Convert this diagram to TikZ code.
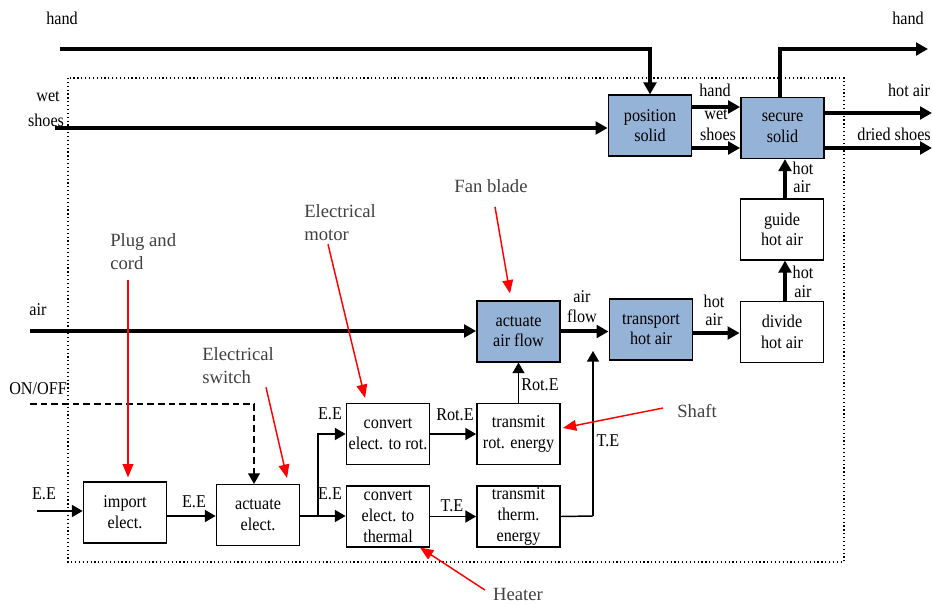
\documentclass[tikz,border=0pt]{standalone}
\usepackage{fontspec}
\setmainfont{Liberation Serif}
\newfontfamily\narrowfont[FakeStretch=0.9]{Liberation Serif}
\usetikzlibrary{arrows.meta,calc}
\definecolor{boxblue}{HTML}{95B3D7}
\definecolor{annot}{HTML}{404040}
\begin{document}
\begin{tikzpicture}[x=0.75pt,y=-0.75pt,
 box/.style={draw,line width=1.1pt,minimum width=62.5pt,minimum height=45.5pt,align=center,inner sep=0pt,font=\narrowfont\fontsize{13.5}{15.5}\selectfont},
 bluebox/.style={box,fill=boxblue},
 lbl/.style={font=\narrowfont\fontsize{13.5}{14}\selectfont,inner sep=0pt,align=center},
 note/.style={font=\fontsize{14}{17.25}\selectfont,text=annot,inner sep=0pt,align=left},
 thk/.style={line width=3pt,-{Triangle[length=9pt,width=9.5pt]}},
 thkline/.style={line width=3pt},
 thn/.style={line width=1.1pt,-{Triangle[length=8pt,width=9pt]}},
 thnline/.style={line width=1.1pt},
 redarr/.style={draw=red,line width=1.1pt,-{Triangle[length=10pt,width=8pt]}}]
\useasboundingbox (0,0) rectangle (932,605);
% system boundary
\draw[dotted,line width=0.9pt] (68,78) rectangle (844,562);

% boxes
\node[bluebox] (pos) at (650,125.5) {position\\solid};
\node[bluebox] (sec) at (782.5,128) {secure\\solid};
\node[box] (guide) at (782,229.5) {guide\\hot air};
\node[box] (divide) at (782,332) {divide\\hot air};
\node[bluebox] (trans) at (651,329.5) {transport\\hot air};
\node[bluebox] (actair) at (518.5,331.5) {actuate\\air flow};
\node[box] (trot) at (518.5,434) {transmit\\rot. energy};
\node[box] (crot) at (388,434) {convert\\elect. to rot.};
\node[box] (cth) at (388,516.5) {convert\\elect. to\\thermal};
\node[box] (tth) at (518.5,516.5) {transmit\\therm.\\energy};
\node[box] (actel) at (258,515) {actuate\\elect.};
\node[box] (imp) at (125,512.5) {import\\elect.};

% free ends
\coordinate (handin) at (60,49);
\coordinate (shoesin) at (55,128);
\coordinate (handout) at (928,49);
\coordinate (hotairout) at (932,113);
\coordinate (driedout) at (932,148);
\coordinate (airin) at (30,331);
\coordinate (eein) at (37,511);
\coordinate (onoff) at (30,404);
\coordinate (tecorner) at (593,516);
\coordinate (tetip) at (593,351);
\coordinate (split) at (318,516);

% thick flows
\draw[thk] (handin) -| (pos.north);
\draw[thk] (shoesin) -- (shoesin -| pos.west);
\draw[thk] (pos.east |- 0,107) -- (sec.west |- 0,107);
\draw[thk] (pos.east |- 0,148) -- (sec.west |- 0,148);
\draw[thk] (sec.north -| 780,0) |- (handout);
\draw[thk] (sec.east |- hotairout) -- (hotairout);
\draw[thk] (sec.east |- driedout) -- (driedout);
\draw[thk] (guide.north -| 785,0) -- (sec.south -| 785,0);
\draw[thk] (divide.north -| 785,0) -- (guide.south -| 785,0);
\draw[thk] (trans.east |- 0,333) -- (divide.west |- 0,333);
\draw[thk] (actair.east) -- (trans.west |- actair.east);
\draw[thk] (airin) -- (airin -| actair.west);

% thin flows
\draw[thn] (eein) -- (eein -| imp.west);
\draw[thn] (imp.east |- 0,516) -- (actel.west |- 0,516);
\draw[thnline] (actel.east |- split) -- (split);
\draw[thn] (split) |- (crot.west);
\draw[thn] (split) -- (split -| cth.west);
\draw[thn] (crot.east) -- (trot.west);
\draw[thn] (cth.east) -- (tth.west);
\draw[thn] (trot.north) -- (actair.south);
\draw[thnline] (tth.east) -- (tecorner);
\draw[thn] (tecorner) -- (tetip);
\draw[thn,dash pattern=on 5pt off 3pt] (onoff) -| (actel.north -| 254,0);

% labels
\node[lbl] (l1) at (62,18) {hand};
\node[lbl] (l2) at (908,18) {hand};
\node[lbl] (l3) at (48,97) {wet};
\node[lbl] (l4) at (46,120) {shoes};
\node[lbl] (l5) at (715,90) {hand};
\node[lbl] (l6) at (716,115) {wet};
\node[lbl] (l7) at (718,134) {shoes};
\node[lbl] (l8) at (909,90) {hot air};
\node[lbl,anchor=east] (l9) at (931,134) {dried shoes};
\node[lbl] (l10) at (803,168) {hot};
\node[lbl] (l11) at (802,187) {air};
\node[lbl] (l12) at (803,272) {hot};
\node[lbl] (l13) at (803,292) {air};
\node[lbl] (l14) at (714,301) {hot};
\node[lbl] (l15) at (714,320) {air};
\node[lbl] (l16) at (582,297) {air};
\node[lbl] (l17) at (582,316) {flow};
\node[lbl] (l18) at (38,310) {air};
\node[lbl] (l19) at (608,441) {T.E};
\node[lbl] (l20) at (540,385) {Rot.E};
\node[lbl] (l21) at (455,415) {Rot.E};
\node[lbl] (l22) at (452,506) {T.E};
\node[lbl] (l23) at (330,414) {E.E};
\node[lbl] (l24) at (330,494) {E.E};
\node[lbl] (l25) at (194,502) {E.E};
\node[lbl] (l26) at (44,494) {E.E};
\node[lbl,anchor=west] (l27) at (9,389) {ON/OFF};

% annotations
\node[note,anchor=west] (plug) at (110,252) {Plug and\\cord};
\node[note,anchor=west] (switch) at (202,366) {Electrical\\switch};
\node[note,anchor=west] (motor) at (304,223) {Electrical\\motor};
\node[note] (fan) at (491,186) {Fan blade};
\node[note] (shaft) at (697,411) {Shaft};
\node[note] (heater) at (518,594) {Heater};

\draw[redarr] (plug.south -| 128,0) ++(0,10) -- ($(imp.north)+(3,-4)$);
\draw[redarr] ($(switch.south)+(28,3)$) -- ($(actel.north)+(29,-6)$);
\draw[redarr] ($(motor.south)+(-12,3)$) -- ($(crot.north)+(-23,-5)$);
\draw[redarr] ($(fan.south)+(4,14)$) -- ($(actair.north)+(-8.5,-7)$);
\draw[redarr] ($(shaft.west)+(-14,-3)$) -- ($(trot.east)+(2,-6)$);
\draw[redarr] ($(heater.west)+(-8,-4)$) -- ($(cth.south)+(32,0)$);
\end{tikzpicture}
\end{document}
